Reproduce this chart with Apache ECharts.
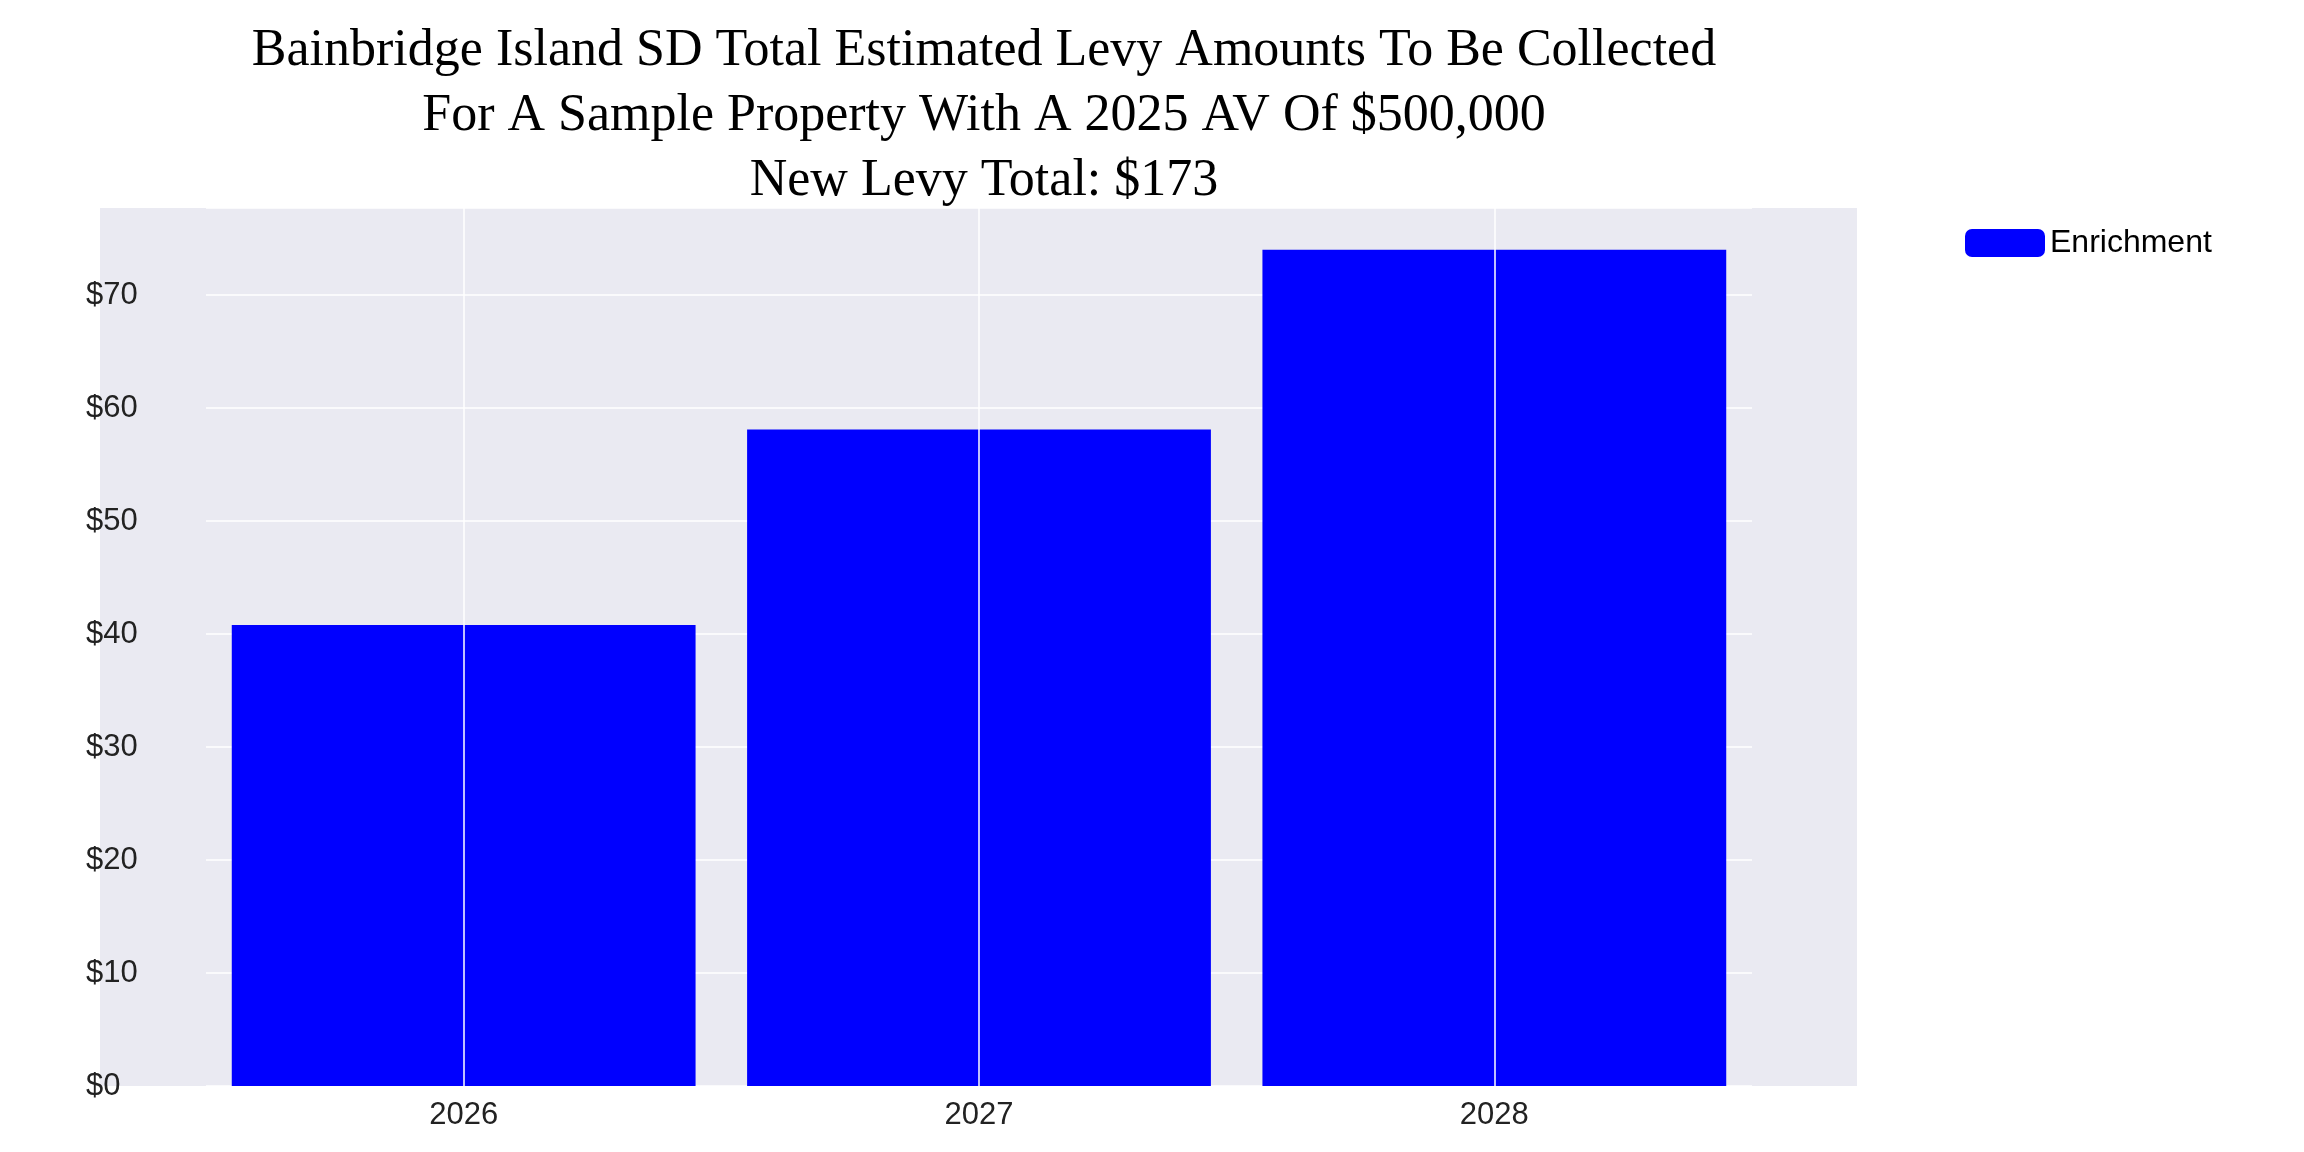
<!DOCTYPE html>
<html>
<head>
<meta charset="utf-8">
<script src="https://cdn.jsdelivr.net/npm/echarts@6/dist/echarts.min.js"></script>
<style>html,body{margin:0;padding:0;background:#fff}#main{width:2304px;height:1152px}</style>
</head>
<body>
<div id="main"></div>
<script>
var years = ['2026', '2027', '2028'];
var enrichment = [40.8, 58.1, 74.0];
var yTicks = [0, 10, 20, 30, 40, 50, 60, 70];

var chart = echarts.init(document.getElementById('main'));

var option = {
    backgroundColor: '#ffffff',
    title: {
        text: 'Bainbridge Island SD Total Estimated Levy Amounts To Be Collected\nFor A Sample Property With A 2025 AV Of $500,000\nNew Levy Total: $173',
        left: 979,
        top: 14,
        textAlign: 'center',
        textStyle: {
            fontFamily: 'Liberation Serif',
            fontWeight: 'normal',
            fontSize: 52,
            lineHeight: 65,
            color: '#000'
        }
    },
    legend: {
        data: ['Enrichment'],
        left: 1960,
        top: 222,
        itemWidth: 80,
        itemHeight: 28,
        itemGap: 10,
        textStyle: { fontFamily: 'Liberation Sans', fontSize: 32, color: '#000' }
    },
    grid: [
        { left: 100, right: 447, top: 208, bottom: 66, show: true, backgroundColor: '#eaeaf2', borderWidth: 0 },
        { left: 206, right: 552, top: 208, bottom: 66 }
    ],
    xAxis: [
        { gridIndex: 0, type: 'value', show: false },
        {
            gridIndex: 1, type: 'category', data: years,
            axisLine: { show: false }, axisTick: { show: false },
            axisLabel: { fontFamily: 'Liberation Sans', fontSize: 31, color: '#222', margin: 14 },
            splitLine: { show: false }
        }
    ],
    yAxis: [
        { gridIndex: 0, type: 'value', show: false },
        {
            gridIndex: 1, type: 'value', min: 0, max: 77.7, interval: 10,
            axisLine: { show: false }, axisTick: { show: false },
            axisLabel: {
                fontFamily: 'Liberation Sans', fontSize: 31, color: '#222', margin: 120,
                align: 'left',
                formatter: function (v) { return yTicks.indexOf(v) >= 0 ? '$' + v : ''; }
            },
            splitLine: { show: true, lineStyle: { color: '#ffffff', width: 1.5 } }
        }
    ],
    series: [
        {
            name: 'grid-x',
            type: 'line',
            xAxisIndex: 1, yAxisIndex: 1,
            data: [],
            z: 1,
            silent: true,
            markLine: {
                symbol: 'none',
                silent: true,
                label: { show: false },
                lineStyle: { color: '#ffffff', width: 1.5, type: 'solid' },
                data: years.map(function (y) { return { xAxis: y }; })
            }
        },
        {
            name: 'Enrichment',
            type: 'bar',
            xAxisIndex: 1, yAxisIndex: 1,
            data: enrichment,
            barCategoryGap: '10%',
            itemStyle: { color: '#0000ff' },
            z: 3
        }
    ]
};

chart.setOption(option);
</script>
</body>
</html>
